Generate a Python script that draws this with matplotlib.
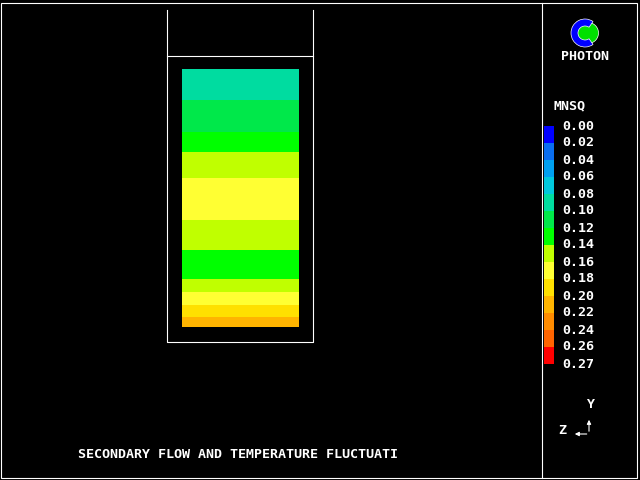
import numpy as np
import matplotlib.pyplot as plt
from matplotlib.colors import ListedColormap, BoundaryNorm
from matplotlib.patches import Wedge, Circle, Rectangle

# contour levels and colours of the MNSQ legend
levels = [0.00, 0.02, 0.04, 0.06, 0.08, 0.10, 0.12, 0.14, 0.16, 0.18, 0.20, 0.22, 0.24, 0.26, 0.27]
level_labels = ["0.00", "0.02", "0.04", "0.06", "0.08", "0.10", "0.12", "0.14",
                "0.16", "0.18", "0.20", "0.22", "0.24", "0.26", "0.27"]
colors = ["#0000ff", "#0a6ef0", "#00a0f0", "#00c8dc", "#00dca0", "#00e84a", "#00ff00",
          "#c0ff00", "#ffff33", "#ffe000", "#ffb400", "#ff8c00", "#ff6400", "#ff0000"]

# horizontal bands in the domain (screen rows, top to bottom) and their MNSQ value
band_edges = [69, 100, 132, 152, 178, 220, 250, 279, 292, 305, 317, 327]
band_values = [0.09, 0.11, 0.13, 0.15, 0.17, 0.15, 0.13, 0.15, 0.17, 0.19, 0.21]
domain_x = [182, 299]

title = "SECONDARY FLOW AND TEMPERATURE FLUCTUATI"
mono = "DejaVu Sans Mono"
fs = 9.6
lw = 0.8

cmap = ListedColormap(colors)
norm = BoundaryNorm(levels, cmap.N)

fig = plt.figure(figsize=(6.4, 4.8), dpi=100, facecolor="black")
ax = fig.add_axes([0, 0, 1, 1])
ax.set_facecolor("black")
ax.set_xlim(0, 640)
ax.set_ylim(480, 0)
ax.axis("off")

# contour bands
ax.pcolormesh(domain_x, band_edges, np.array(band_values).reshape(-1, 1),
              cmap=cmap, norm=norm, shading="flat")

# geometry outline
ax.plot([167, 167, 313, 313], [10, 342, 342, 10], color="white", lw=lw)
ax.plot([167, 313], [56, 56], color="white", lw=lw)

# frame and side panel divider
ax.add_patch(Rectangle((0.5, 2.5), 636, 475, fill=False, ec="white", lw=lw))
ax.plot([541.5, 541.5], [2.5, 477.5], color="white", lw=lw)

# logo
ax.add_patch(Circle((588, 33), 10.5, color="#00e000", ec="white", lw=0.5))
ax.add_patch(Wedge((585, 33), 14, 55, 305, width=7, color="#0000ff", ec="white", lw=0.5))
ax.text(585, 56, "PHOTON", color="white", family=mono, fontsize=fs,
        weight="bold", ha="center", va="center")

# legend
ax.text(554, 106, "MNSQ", color="white", family=mono, fontsize=fs,
        weight="bold", ha="left", va="center")
cax = fig.add_axes([544 / 640, (480 - 364) / 480, 10 / 640, 238 / 480])
cb = fig.colorbar(plt.cm.ScalarMappable(norm=norm, cmap=cmap), cax=cax,
                  boundaries=levels, spacing="uniform", ticks=levels)
cb.outline.set_visible(False)
cax.invert_yaxis()
cax.tick_params(length=0, pad=6, colors="white")
cb.set_ticklabels(level_labels)
for t in cax.get_yticklabels():
    t.set_family(mono)
    t.set_fontsize(fs)
    t.set_weight("bold")
    t.set_color("white")
    t.set_va("center")

# axis triad
ax.text(590, 404, "Y", color="white", family=mono, fontsize=fs,
        weight="bold", ha="center", va="center")
ax.text(562, 430, "Z", color="white", family=mono, fontsize=fs,
        weight="bold", ha="center", va="center")
ax.annotate("", xy=(589, 417), xytext=(589, 434),
            arrowprops=dict(arrowstyle="-|>", color="white", lw=lw, mutation_scale=6))
ax.annotate("", xy=(572, 434), xytext=(589.5, 434),
            arrowprops=dict(arrowstyle="-|>", color="white", lw=lw, mutation_scale=6))

ax.text(78, 454, title, color="white", family=mono, fontsize=fs,
        weight="bold", ha="left", va="center")

fig.savefig("out.png", dpi=100, facecolor="black")
